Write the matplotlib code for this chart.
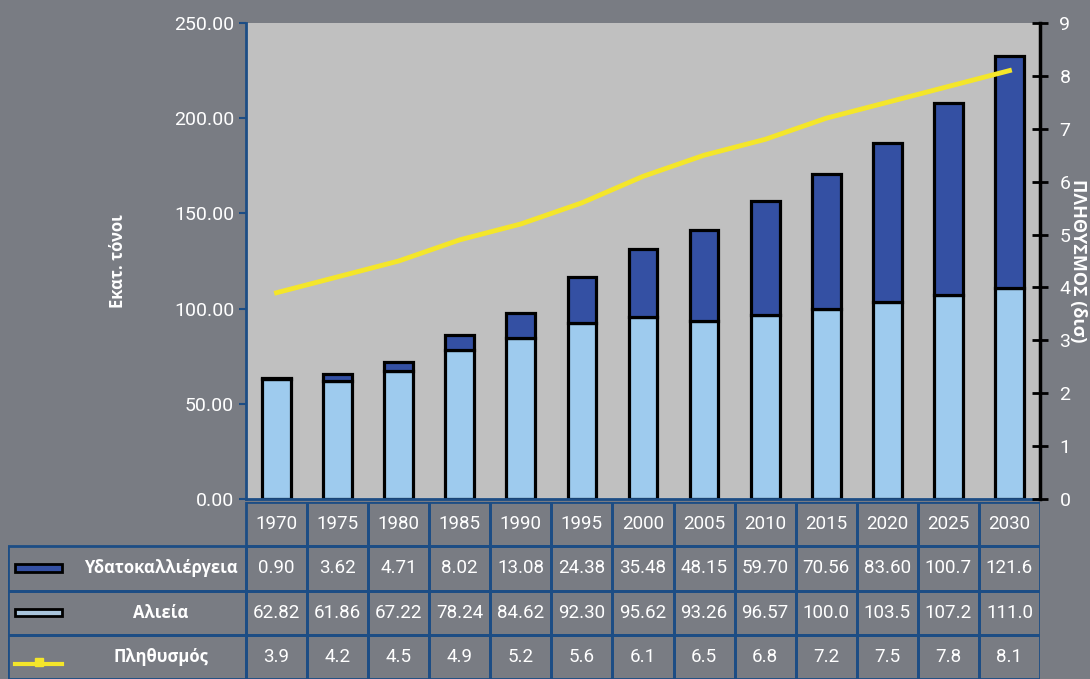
import numpy as np
import matplotlib
matplotlib.use('agg')
import matplotlib.pyplot as plt
from matplotlib.patches import Rectangle
from matplotlib.lines import Line2D

plt.rcParams['font.family'] = ['Roboto', 'DejaVu Sans']

years = ['1970', '1975', '1980', '1985', '1990', '1995', '2000', '2005',
         '2010', '2015', '2020', '2025', '2030']
aquaculture = [0.90, 3.62, 4.71, 8.02, 13.08, 24.38, 35.48, 48.15, 59.70,
               70.56, 83.60, 100.7, 121.6]
fishing = [62.82, 61.86, 67.22, 78.24, 84.62, 92.30, 95.62, 93.26, 96.57,
           100.0, 103.5, 107.2, 111.0]
population = [3.9, 4.2, 4.5, 4.9, 5.2, 5.6, 6.1, 6.5, 6.8, 7.2, 7.5, 7.8, 8.1]

aqua_txt = ['0.90', '3.62', '4.71', '8.02', '13.08', '24.38', '35.48', '48.15',
            '59.70', '70.56', '83.60', '100.7', '121.6']
fish_txt = ['62.82', '61.86', '67.22', '78.24', '84.62', '92.30', '95.62',
            '93.26', '96.57', '100.0', '103.5', '107.2', '111.0']
pop_txt = ['3.9', '4.2', '4.5', '4.9', '5.2', '5.6', '6.1', '6.5', '6.8',
           '7.2', '7.5', '7.8', '8.1']
row_labels = ['Υδατοκαλλιέργεια', 'Αλιεία', 'Πληθυσμός']

BG = '#797c83'
PLOT_BG = '#c0c0c0'
DARK = '#3450a3'
LIGHT = '#9ecbee'
YELLOW = '#f4e62a'
GRID = '#1c4d85'

W, H = 1090, 679
fig = plt.figure(figsize=(W/100, H/100), dpi=100, facecolor=BG)

x0, x1 = 246, 1040
ytop, ybot = 23, 499
ax = fig.add_axes([x0/W, 1-ybot/H, (x1-x0)/W, (ybot-ytop)/H])
ax.set_facecolor(PLOT_BG)
x = np.arange(len(years))

ax.bar(x, fishing, width=0.47, color=LIGHT, edgecolor='black', linewidth=2.3, zorder=2)
ax.bar(x, aquaculture, width=0.47, bottom=fishing, color=DARK, edgecolor='black',
       linewidth=2.3, zorder=2)
ax.set_xlim(-0.5, len(years)-0.5)
ax.set_ylim(0, 250)
ax.set_yticks(np.arange(0, 251, 50))
ax.set_yticklabels(['%.2f' % v for v in np.arange(0, 251, 50)])
ax.set_xticks([])
ax.tick_params(axis='y', colors=GRID, labelcolor='white', labelsize=14, length=5, width=1.5)
for s in ['top', 'right']:
    ax.spines[s].set_visible(False)
ax.spines['left'].set_color(GRID)
ax.spines['left'].set_linewidth(2)
ax.spines['bottom'].set_color(GRID)
ax.spines['bottom'].set_linewidth(2)
ax.set_ylabel('Εκατ. τόνοι', color='white', fontsize=12, fontweight='bold',
              family='Open Sans', labelpad=34)

ax2 = ax.twinx()
ax2.plot(x, population, color=YELLOW, linewidth=3.5, zorder=3)
ax2.set_ylim(0, 9)
ax2.set_yticks(range(0, 10))
ax2.tick_params(axis='y', colors='black', labelcolor='white', labelsize=14,
                direction='inout', length=12, width=2, pad=8)
for s in ['top', 'left', 'bottom']:
    ax2.spines[s].set_visible(False)
ax2.spines['right'].set_color('black')
ax2.spines['right'].set_linewidth(2.5)
ax2.set_ylabel('ΠΛΗΘΥΣΜΟΣ (δισ)', color='white', fontsize=13, fontweight='bold',
               family='Open Sans', rotation=270, labelpad=12)

# table below the chart
cw = (x1 - x0) / len(years)
tl = 8
lab_w = (x0 - tl) / cw
tax = fig.add_axes([tl/W, 0, (x1-tl)/W, (H-502)/H])
tax.set_xlim(-0.5-lab_w, len(years)-0.5)
tax.set_ylim(0, 4)
tax.axis('off')

for i, yr in enumerate(years):
    tax.add_patch(Rectangle((i-0.5, 3), 1, 1, facecolor='none', edgecolor=GRID, lw=2))
    tax.text(i, 3.5, yr, ha='center', va='center', color='white', fontsize=13.5)

rows = [aqua_txt, fish_txt, pop_txt]
for r, vals in enumerate(rows):
    y = 2 - r
    tax.add_patch(Rectangle((-0.5-lab_w, y), lab_w, 1, facecolor='none', edgecolor=GRID, lw=2))
    for i, v in enumerate(vals):
        tax.add_patch(Rectangle((i-0.5, y), 1, 1, facecolor='none', edgecolor=GRID, lw=2))
        tax.text(i, y+0.5, v, ha='center', va='center', color='white', fontsize=13.5)

sx0 = -0.5 - lab_w + 7/cw
sw = 47/cw
tax.add_patch(Rectangle((sx0, 2.42), sw, 0.17, facecolor=DARK, edgecolor='black', lw=2))
tax.add_patch(Rectangle((sx0, 1.42), sw, 0.17, facecolor='#a9c4dc', edgecolor='black', lw=2))
tax.add_line(Line2D([sx0, sx0+sw], [0.35, 0.35], color=YELLOW, lw=3))
tax.add_line(Line2D([sx0+sw/2], [0.38], color=YELLOW, marker='s', ms=6))

tax.text(-0.5-lab_w + 153/cw, 2.5, row_labels[0], ha='center', va='center',
         color='white', fontsize=12, fontweight='bold', family='Open Sans')
tax.text(-0.5-lab_w + 153/cw, 1.5, row_labels[1], ha='center', va='center',
         color='white', fontsize=12, fontweight='bold', family='Open Sans')
tax.text(-0.5-lab_w + 153/cw, 0.5, row_labels[2], ha='center', va='center',
         color='white', fontsize=12, fontweight='bold', family='Open Sans')

fig.savefig('out.png', dpi=100, facecolor=BG)
